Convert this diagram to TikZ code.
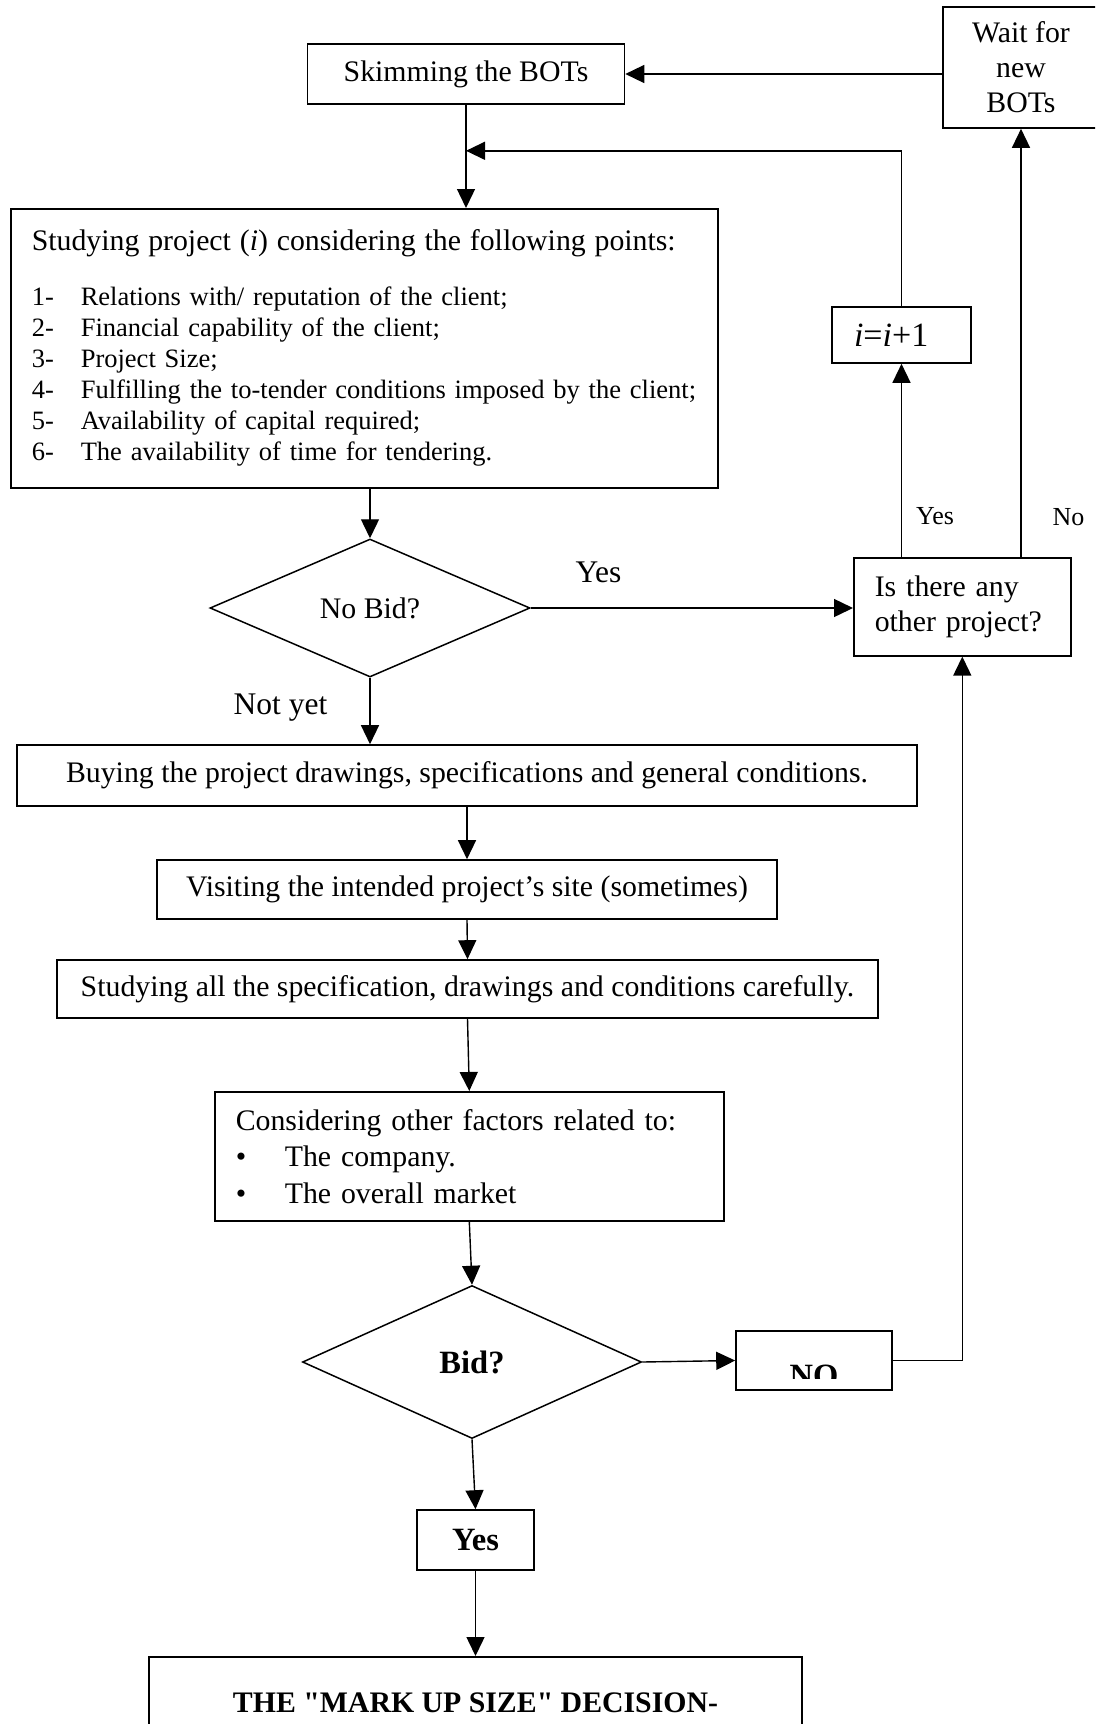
\documentclass[tikz,border=0pt]{standalone}
\usepackage{fontspec}
\setmainfont{Liberation Serif}
\usetikzlibrary{shapes.geometric,arrows.meta}
\newcommand{\txtfont}{\fontsize{29.8}{35}\selectfont}
\newcommand{\lstfont}{\fontsize{26.5}{31}\selectfont}
\newcommand{\lblfont}{\fontsize{31.5}{36}\selectfont}
\newcommand{\smlfont}{\fontsize{26}{30}\selectfont}
\newcommand{\incfont}{\fontsize{34}{38}\selectfont}
\newcommand{\bldfont}{\fontsize{32.5}{37}\selectfont\bfseries}
\newcommand{\itemno}[2]{\mbox{\makebox[49pt][l]{#1}#2}}
\tikzset{
  box/.style={draw, line width=1.6pt, inner sep=0pt, font=\txtfont},
  txtbox/.style={box, anchor=north west, align=left, inner xsep=21pt},
  decision/.style={draw, diamond, line width=1.5pt, inner sep=0pt},
  arr/.style={line width=1.4pt, -{Triangle[length=19pt,width=18pt]}},
  lbl/.style={inner sep=0pt},
}
\begin{document}
\begin{tikzpicture}[x=1pt,y=-1pt]
    \useasboundingbox (0,0) rectangle (1095,1724);
    \clip (0,0) rectangle (1095,1724);
    % top row
    \node[box, minimum width=317pt, minimum height=60pt] (skim) at (466,74) {Skimming the BOTs};
    \node[box, minimum width=156pt, minimum height=121pt, align=center] (wait) at (1021,67.5) {Wait for\\new\\BOTs};
    % studying project i
    \node[txtbox, text width=665pt, minimum height=279pt, font=\lstfont] (study) at (10,208) {%
        \mbox{\txtfont Studying project (\textit{i}) considering the following points:}\\[24pt]
        \itemno{1-}{Relations with/ reputation of the client;}\\
        \itemno{2-}{Financial capability of the client;}\\
        \itemno{3-}{Project Size;}\\
        \itemno{4-}{Fulfilling the to-tender conditions imposed by the client;}\\
        \itemno{5-}{Availability of capital required;}\\
        \itemno{6-}{The availability of time for tendering.}};
    \node[box, text width=95pt, align=left, inner xsep=22pt, minimum height=56pt, font=\incfont] (incr) at (901.5,335) {\textit{i}=\textit{i}+1};
    \node[txtbox, text width=175pt, minimum height=98pt] (isthere) at (853,557) {Is there any\\other project?};
    \node[decision, minimum width=320pt, minimum height=138pt, font=\txtfont] (nobid) at (370,608) {No Bid?};
    % middle column
    \node[box, minimum width=900pt, minimum height=61pt] (buy) at (467,775.5) {Buying the project drawings, specifications and general conditions.};
    \node[box, minimum width=620pt, minimum height=59pt] (visit) at (467,889.5) {Visiting the intended project’s site (sometimes)};
    \node[box, minimum width=821pt, minimum height=58pt] (studyall) at (467.5,989) {Studying all the specification, drawings and conditions carefully.};
    \node[txtbox, text width=467pt, minimum height=129pt, font=\fontsize{29.8}{36.5}\selectfont] (consider) at (214,1091) {%
        Considering other factors related to:\\
        \itemno{•}{The company.}\\
        \itemno{•}{The overall market}};
    \node[decision, minimum width=339pt, minimum height=153pt, font=\bldfont] (bid) at (472,1362) {Bid?};
    \node[box, minimum width=156pt, minimum height=59pt] (no) at (814,1360.5) {};
    \begin{scope}
        \clip (no.north west) rectangle ([yshift=-18pt]no.east);
        \node[font=\bldfont, anchor=base] (notext) at ([yshift=-26pt]no.center) {NO};
    \end{scope}
    \node[box, minimum width=117pt, minimum height=60pt, font=\bldfont] (yesbox) at (475.5,1540) {Yes};
    \node[box, anchor=north, minimum width=653pt, inner ysep=36pt, font={\txtfont\bfseries}] (markup) at (475.5,1656) {THE \textquotedbl MARK UP SIZE\textquotedbl{} DECISION-};
    % connectors
    \coordinate (join) at ([yshift=-46pt]skim.south);
    \draw[arr] (wait.west |- skim.east) -- (skim.east);
    \draw[arr] (skim.south) -- (skim.south |- study.north);
    \draw[arr] (incr.north) |- (join);
    \draw[arr] (incr.south |- isthere.north) -- node[lbl, right=14pt, pos=0.21, font=\smlfont] {Yes} (incr.south);
    \draw[arr] (wait.south |- isthere.north) -- node[lbl, right=31pt, pos=0.093, font=\smlfont] {No} (wait.south);
    \draw[arr] (nobid.north |- study.south) -- (nobid.north);
    \draw[arr] (nobid.east) -- node[lbl, above=25pt, pos=0.21, font=\lblfont] {Yes} (isthere.west |- nobid.east);
    \draw[arr] (nobid.south) -- node[lbl, left=42pt, pos=0.45, font=\lblfont] {Not yet} (nobid.south |- buy.north);
    \draw[arr] (buy.south) -- (visit.north);
    \draw[arr] (visit.south) -- (studyall.north);
    \draw[arr] (studyall.south) -- (consider.south |- consider.north);
    \draw[arr] (consider.south) -- (bid.north);
    \draw[arr] (bid.east) -- (no.west);
    \draw[arr] (no.east) -| (isthere.south);
    \draw[arr] (bid.south) -- (yesbox.north);
    \draw[arr] (yesbox.south) -- (markup.north);
\end{tikzpicture}
\end{document}
